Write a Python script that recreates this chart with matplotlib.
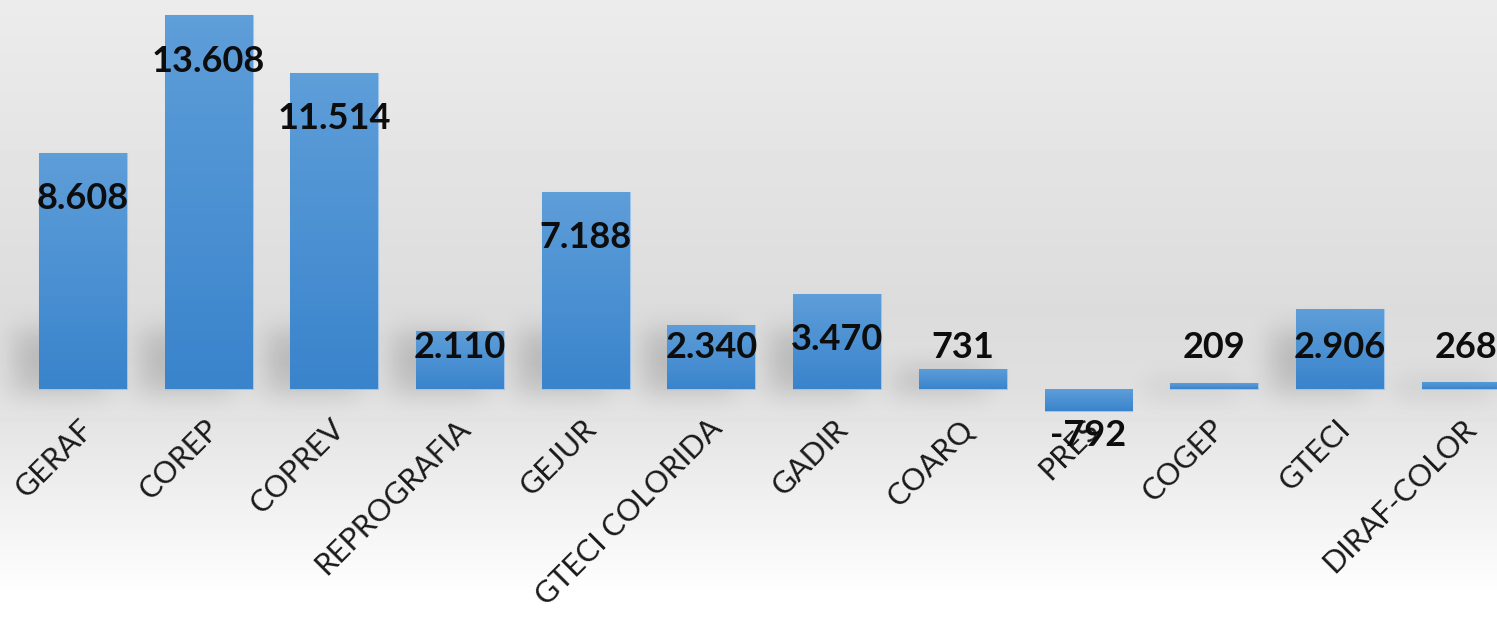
"""Bar chart with per-bar gradient, soft shadows and a grey gradient background."""

import matplotlib

matplotlib.use("Agg")

import matplotlib.pyplot as plt  # noqa: E402
import numpy as np  # noqa: E402
from matplotlib.colors import LinearSegmentedColormap  # noqa: E402
from matplotlib.transforms import ScaledTranslation  # noqa: E402

categories = ["GERAF", "COREP", "COPREV", "REPROGRAFIA", "GEJUR", "GTECI COLORIDA",
              "GADIR", "COARQ", "PRES", "COGEP", "GTECI", "DIRAF-COLOR"]
values = [8608, 13608, 11514, 2110, 7188, 2340, 3470, 731, -792, 209, 2906, 268]

W, H, DPI = 1497, 619, 100
plt.rcParams["font.family"] = ["Lato", "DejaVu Sans"]

fig = plt.figure(figsize=(W / DPI, H / DPI), dpi=DPI)

# background: light grey at top, darker around the baseline, white at the bottom
bg = fig.add_axes([0, 0, 1, 1], zorder=0)
bg.set_axis_off()
rows = np.linspace(0, 1, H)  # 0 = top of the figure
shade = np.interp(rows, [0, 0.5, 0.63, 0.97, 1], [0.925, 0.862, 0.875, 1.0, 1.0])
bg.imshow(np.repeat(shade[:, None], 2, axis=1), cmap="gray", vmin=0, vmax=1,
          aspect="auto", extent=[0, W, 0, H], origin="upper", zorder=0)
bg.set_xlim(0, W)
bg.set_ylim(0, H)

ax = fig.add_axes([0, 199 / H, 1, 420 / H], zorder=1)
ax.patch.set_visible(False)
x = np.arange(len(categories))
bars = ax.bar(x, values, width=0.7, color="#4a90d4", edgecolor="#9fc6ea",
              linewidth=0.8, zorder=3)

# vertical gradient inside each bar
bar_cmap = LinearSegmentedColormap.from_list("bar", ["#3a84cc", "#5e9ed9"])
grad = np.linspace(0, 1, 64)[:, None]
for b in bars:
    x0, w = b.get_x(), b.get_width()
    y0, y1 = sorted((b.get_y(), b.get_y() + b.get_height()))
    im = ax.imshow(grad, cmap=bar_cmap, extent=[x0, x0 + w, y0, y1],
                   origin="lower", aspect="auto", zorder=3.5)
    im.set_clip_path(b)

ax.set_xlim(-0.66, 11.25)
ax.set_ylim(-1129, 14171)

# soft shadow behind the foot of each positive bar
fig.canvas.draw()
mask = np.zeros((H, W))
for b in bars:
    if b.get_height() <= 0:
        continue
    (l, base), (r, top) = ax.transData.transform(
        [(b.get_x(), 0), (b.get_x() + b.get_width(), b.get_height())])
    sh = min(top - base, 60)
    mask[int(base - 2):int(base + sh), int(l - 24):int(r - 20)] = 1.0


def _blur(a, rad, passes=3):
    k = np.ones(2 * rad + 1) / (2 * rad + 1)
    for _ in range(passes):
        a = np.apply_along_axis(lambda m: np.convolve(m, k, mode="same"), 0, a)
        a = np.apply_along_axis(lambda m: np.convolve(m, k, mode="same"), 1, a)
    return a


mask = _blur(mask, 12)
shadow = np.zeros((H, W, 4))
shadow[..., 3] = 0.16 * mask
bg.imshow(shadow, extent=[0, W, 0, H], origin="lower", aspect="auto", zorder=1)
bg.set_xlim(0, W)
bg.set_ylim(0, H)

# value labels
s = ax.transData.transform((0, 1))[1] - ax.transData.transform((0, 0))[1]
for xi, v in zip(x, values):
    if v >= 0:
        y = max(v - 46 / s, 42 / s)
    else:
        y = v - 25 / s
    ax.text(xi, y, f"{v:,}".replace(",", "."), ha="center", va="center",
            fontsize=26, fontweight="bold", color="#0d0d0d", zorder=5)

ax.set_xticks(x)
ax.set_xticklabels(categories, rotation=45, ha="right", va="center",
                   rotation_mode="anchor", fontsize=22, color="#1a1a1a")
ax.tick_params(axis="x", length=0, pad=3)
shift = ScaledTranslation(6 / DPI, 0, fig.dpi_scale_trans)
for lab in ax.get_xticklabels():
    lab.set_transform(lab.get_transform() + shift)
ax.set_yticks([])
for sp in ax.spines.values():
    sp.set_visible(False)

fig.savefig("out.png", dpi=DPI)
